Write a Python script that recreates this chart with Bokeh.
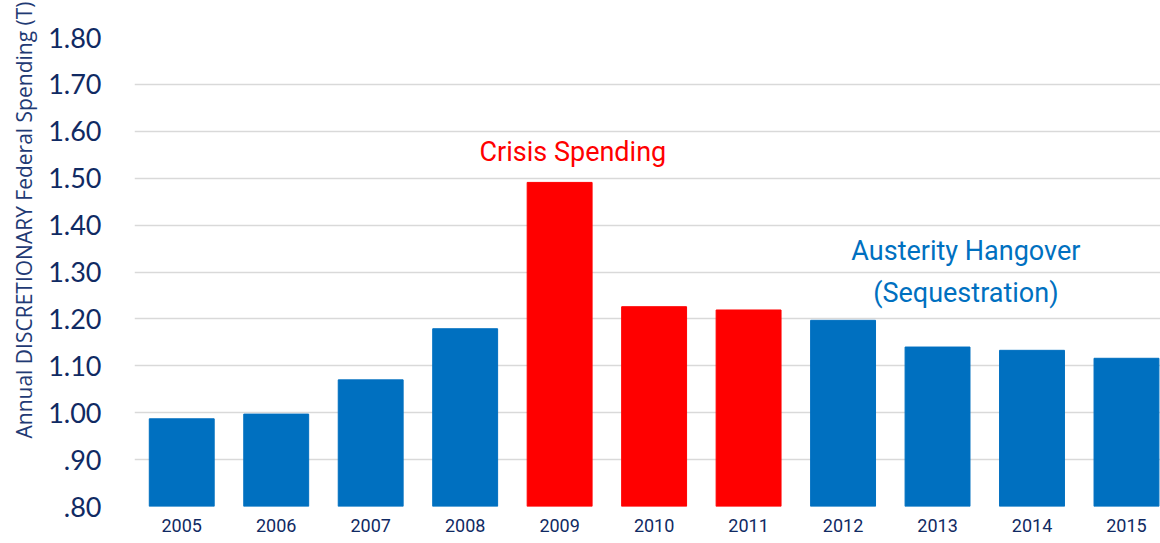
from bokeh.plotting import figure
from bokeh.models import ColumnDataSource, Range1d, FixedTicker, Label, Title
from bokeh.embed import file_html
from bokeh.resources import INLINE

years = ["2005", "2006", "2007", "2008", "2009", "2010", "2011", "2012", "2013", "2014", "2015"]
spending = [0.987, 0.997, 1.070, 1.179, 1.491, 1.226, 1.219, 1.197, 1.140, 1.133, 1.116]
colors = ["#0070C0", "#0070C0", "#0070C0", "#0070C0", "#FF0000", "#FF0000", "#FF0000",
          "#0070C0", "#0070C0", "#0070C0", "#0070C0"]
y_ticks = [0.8, 0.9, 1.0, 1.1, 1.2, 1.3, 1.4, 1.5, 1.6, 1.7, 1.8]
y_tick_labels = [".80", ".90", "1.00", "1.10", "1.20", "1.30", "1.40", "1.50", "1.60", "1.70", "1.80"]

NAVY = "#102a63"

idx = list(range(len(years)))
src = ColumnDataSource(dict(x=idx, top=spending, color=colors, year=years,
                            base=[0.8] * len(years)))

p = figure(width=1160, height=543, output_backend="svg", toolbar_location=None,
           x_range=Range1d(-0.5, 10.36), y_range=Range1d(0.8, 1.8),
           min_border_left=133, min_border_right=0, min_border_top=37, min_border_bottom=37)
p.outline_line_color = None
p.background_fill_color = "white"
p.border_fill_color = "white"

p.vbar(x="x", top="top", bottom="base", width=0.687, color="color", source=src)

# y axis
p.yaxis.ticker = FixedTicker(ticks=y_ticks)
p.yaxis.major_label_overrides = {t: l for t, l in zip(y_ticks, y_tick_labels)}
p.yaxis.axis_line_color = None
p.yaxis.major_tick_line_color = None
p.yaxis.minor_tick_line_color = None
p.yaxis.major_tick_out = 0
p.yaxis.major_label_standoff = 33
p.yaxis.major_label_text_font = "Lato"
p.yaxis.major_label_text_font_size = "27px"
p.yaxis.major_label_text_color = NAVY

# x axis (years)
p.xaxis.ticker = FixedTicker(ticks=idx)
p.xaxis.major_label_overrides = {i: y for i, y in zip(idx, years)}
p.xaxis.axis_line_color = None
p.xaxis.major_tick_line_color = None
p.xaxis.minor_tick_line_color = None
p.xaxis.major_tick_out = 0
p.xaxis.major_label_standoff = 12
p.xaxis.major_label_text_font = "Roboto"
p.xaxis.major_label_text_font_size = "18px"
p.xaxis.major_label_text_color = NAVY

p.xgrid.grid_line_color = None
p.ygrid.ticker = FixedTicker(ticks=y_ticks)
p.ygrid.grid_line_color = "#d9d9d9"
p.ygrid.grid_line_width = 1.6

# y axis title
p.add_layout(Title(text="Annual DISCRETIONARY Federal Spending (T)", align="left", offset=68,
                   text_font="Open Sans", text_font_size="21px", text_font_style="normal",
                   text_color="#1f3a74", standoff=15), "left")

# annotations
p.add_layout(Label(x=4.14, y=1.556, text="Crisis Spending", text_align="center",
                   text_baseline="alphabetic", text_font="Roboto",
                   text_font_size="27px", text_color="#FF0000"))
p.add_layout(Label(x=8.30, y=1.345, text="Austerity Hangover", text_align="center",
                   text_baseline="alphabetic", text_font="Roboto",
                   text_font_size="27px", text_color="#0070C0"))
p.add_layout(Label(x=8.30, y=1.256, text="(Sequestration)", text_align="center",
                   text_baseline="alphabetic", text_font="Roboto",
                   text_font_size="27px", text_color="#0070C0"))

open("out.html", "w").write(file_html(p, INLINE))
